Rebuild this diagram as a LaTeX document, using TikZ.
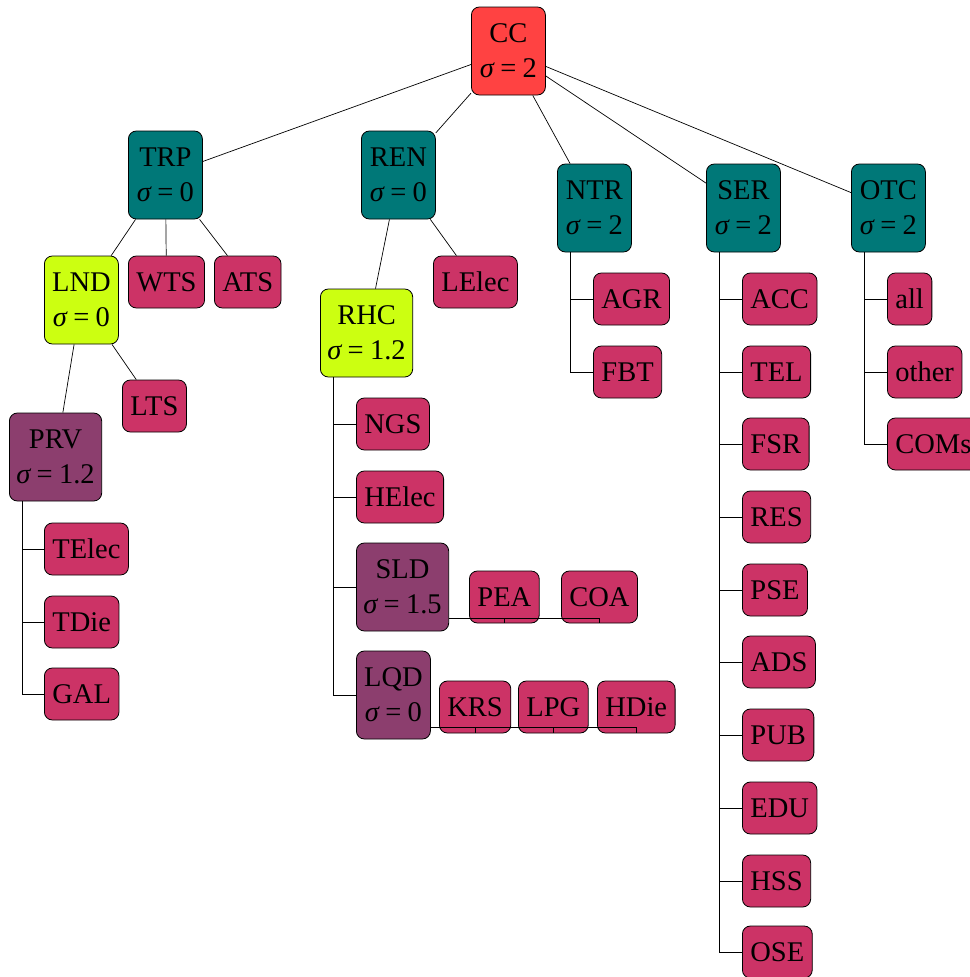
\documentclass[tikz,border=0pt]{standalone}
\usepackage{fontspec}
\setmainfont{Liberation Serif}
\definecolor{cred}{HTML}{FF4242}
\definecolor{cteal}{HTML}{007878}
\definecolor{clime}{HTML}{CCFF11}
\definecolor{cpurp}{HTML}{8C3E6E}
\definecolor{cpink}{HTML}{CC3366}
\newcommand{\sg}[1]{{\itshape σ}\hspace{0.22em}=\hspace{0.22em}#1}
\begin{document}
\begin{tikzpicture}[x=1pt,y=-1pt,
  box/.style={draw=black, line width=0.8pt, rounded corners=8pt, anchor=west,
    font=\fontsize{28.5}{35}\selectfont, inner xsep=7pt, inner ysep=0pt, align=center},
  leaf/.style={box, inner xsep=8pt, fill=cpink, minimum height=52pt},
  two/.style={box, minimum height=88pt, minimum width=74pt},
  edge/.style={draw=black, line width=0.7pt}]
\useasboundingbox (0,0) rectangle (969,977);
% level 0/1
\node[two, fill=cred]  (CC)  at (471,51)  {CC\\\sg{2}};
\node[two, fill=cteal] (TRP) at (128,175) {TRP\\\sg{0}};
\node[two, fill=cteal] (REN) at (361,175) {REN\\\sg{0}};
\node[two, fill=cteal] (NTR) at (557,208) {NTR\\\sg{2}};
\node[two, fill=cteal] (SER) at (706,208) {SER\\\sg{2}};
\node[two, fill=cteal] (OTC) at (851,208) {OTC\\\sg{2}};
% TRP subtree
\node[two, fill=clime] (LND) at (44,300) {LND\\\sg{0}};
\node[leaf] (WTS) at (128,282) {WTS};
\node[leaf] (ATS) at (214,282) {ATS};
\node[leaf] (LTS) at (122,406) {LTS};
\node[two, fill=cpurp] (PRV) at (9,457) {PRV\\\sg{1.2}};
\node[leaf] (TElec) at (44,549) {TElec};
\node[leaf] (TDie) at (44,622) {TDie};
\node[leaf] (GAL) at (44,694) {GAL};
% REN subtree
\node[leaf] (LElec) at (433,282) {LElec};
\node[two, fill=clime] (RHC) at (320,333) {RHC\\\sg{1.2}};
\node[leaf] (NGS) at (356,424) {NGS};
\node[leaf] (HElec) at (356,497) {HElec};
\node[two, fill=cpurp] (SLD) at (356,587) {SLD\\\sg{1.5}};
\node[two, fill=cpurp] (LQD) at (356,695) {LQD\\\sg{0}};
\node[leaf] (PEA) at (469,597) {PEA};
\node[leaf] (COA) at (561,597) {COA};
\node[leaf] (KRS) at (439,707) {KRS};
\node[leaf] (LPG) at (518,707) {LPG};
\node[leaf] (HDie) at (597,707) {HDie};
% NTR subtree
\node[leaf] (AGR) at (593,299) {AGR};
\node[leaf] (FBT) at (593,372) {FBT};
% SER subtree
\node[leaf] (ACC) at (742,299) {ACC};
\node[leaf] (TEL) at (742,372) {TEL};
\node[leaf] (FSR) at (742,444) {FSR};
\node[leaf] (RES) at (742,517) {RES};
\node[leaf] (PSE) at (742,590) {PSE};
\node[leaf] (ADS) at (742,662) {ADS};
\node[leaf] (PUB) at (742,735) {PUB};
\node[leaf] (EDU) at (742,808) {EDU};
\node[leaf] (HSS) at (742,881) {HSS};
\node[leaf] (OSE) at (742,952) {OSE};
% OTC subtree
\node[leaf] (all) at (887,299) {all};
\node[leaf] (other) at (887,372) {other};
\node[leaf] (COMs) at (887,444) {COMs};
% straight edges
\foreach \a/\b in {CC/TRP,CC/REN,CC/NTR,CC/SER,CC/OTC,TRP/LND,TRP/WTS,TRP/ATS,
  LND/LTS,LND/PRV,REN/RHC,REN/LElec}
  \draw[edge] (\a) -- (\b);
% elbow edges
\foreach \p/\c in {PRV/TElec,PRV/TDie,PRV/GAL,RHC/NGS,RHC/HElec,RHC/SLD,RHC/LQD,
  NTR/AGR,NTR/FBT,SER/ACC,SER/TEL,SER/FSR,SER/RES,SER/PSE,SER/ADS,SER/PUB,SER/EDU,
  SER/HSS,SER/OSE,OTC/all,OTC/other,OTC/COMs}
  \draw[edge] ([xshift=13pt]\p.south west) |- (\c.west);
% odd sideways edges
\foreach \c in {PEA,COA}
  \draw[edge] ([yshift=13pt]SLD.south east) -| (\c.south);
\foreach \c in {KRS,LPG,HDie}
  \draw[edge] ([yshift=12pt]LQD.south east) -| (\c.south);
\end{tikzpicture}
\end{document}
